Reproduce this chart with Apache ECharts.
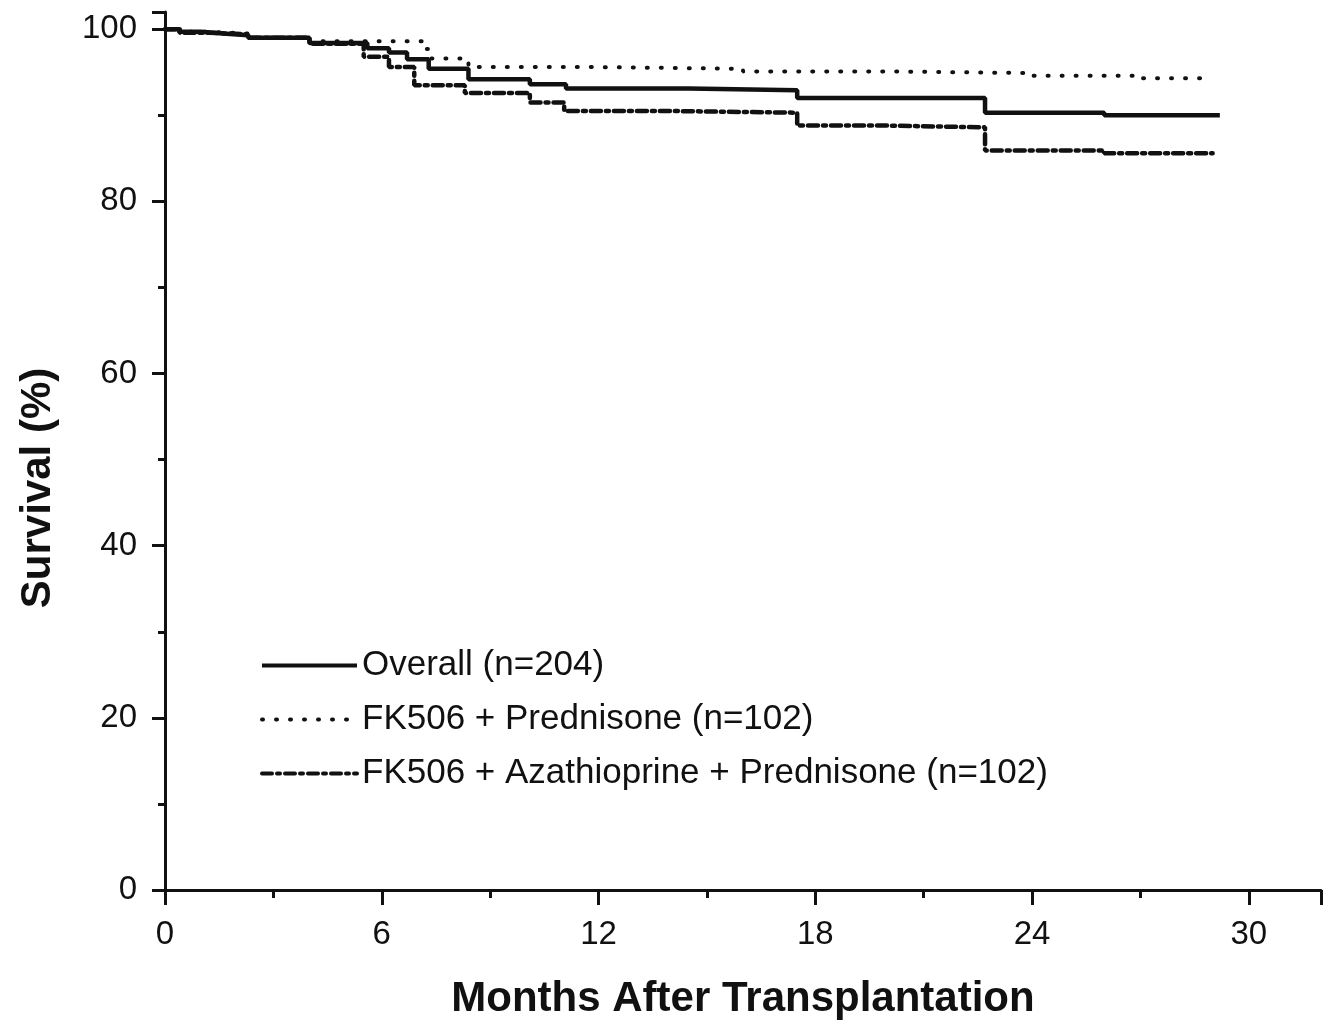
<!DOCTYPE html>
<html>
<head>
<meta charset="utf-8">
<title>Survival after transplantation</title>
<script src="https://cdn.jsdelivr.net/npm/echarts@6/dist/echarts.min.js"></script>
<style>
  html, body { margin: 0; padding: 0; background: #fff; }
  #chart { width: 1331px; height: 1025px; }
</style>
</head>
<body>
<div id="chart"></div>
<script>
// Kaplan-Meier steps (months, survival %)
const overallMonths = [0, 0.4, 1.0, 1.6, 2.3, 4.0, 5.6, 6.2, 6.7, 7.3, 8.4, 10.1, 11.1, 14.5, 17.5, 22.7, 26.0, 29.2]
const overallSurvival = [100, 99.7, 99.5, 99.3, 99.0, 98.4, 97.8, 97.3, 96.5, 95.4, 94.2, 93.6, 93.1, 92.9, 92.0, 90.3, 90.0, 90.0]

const predMonths = [0, 0.5, 1.2, 2.3, 4.0, 7.2, 7.35, 8.4, 12, 16, 20, 24, 27, 28.8]
const predSurvival = [100, 99.7, 99.5, 99.0, 98.6, 97.7, 96.6, 95.6, 95.4, 95.1, 94.9, 94.6, 94.3, 94.3]

const azaMonths = [0, 0.4, 1.2, 2.3, 4.0, 5.5, 6.2, 6.9, 8.3, 10.1, 11.05, 14, 17.5, 20, 22.7, 26, 29.0]
const azaSurvival = [100, 99.6, 99.4, 99.0, 98.3, 96.8, 95.6, 93.5, 92.6, 91.5, 90.5, 90.3, 88.8, 88.6, 85.9, 85.6, 85.6]

const seriesNames = ['Overall (n=204)', 'FK506 + Prednisone (n=102)', 'FK506 + Azathioprine + Prednisone (n=102)']
const xTicks = { min: 0, max: 32, interval: 6 }
const yTicks = { min: 0, max: 102, interval: 20 }

const ink = '#111'
const font = 'Liberation Sans, Arial, Helvetica, sans-serif'

function pairs (xs, ys) {
  return xs.map((x, i) => [x, ys[i]])
}

const chart = echarts.init(document.getElementById('chart'))
const option = {
  backgroundColor: '#fff',
  animation: false,
  grid: {
    left: 165,
    right: 10,
    top: 12,
    bottom: 135
  },
  legend: {
    orient: 'vertical',
    left: 255,
    top: 643,
    itemWidth: 95,
    itemHeight: 12,
    itemGap: 19,
    // hide the middle marker, keep only the line sample
    itemStyle: { color: 'transparent', borderWidth: 0 },
    lineStyle: { width: 4 },
    textStyle: { fontSize: 35, color: ink, fontFamily: font, lineHeight: 34 },
    data: seriesNames
  },
  xAxis: {
    type: 'value',
    min: xTicks.min,
    max: xTicks.max,
    interval: xTicks.interval,
    name: 'Months After Transplantation',
    nameLocation: 'middle',
    nameGap: 88,
    nameTextStyle: { fontSize: 42, fontWeight: 'bold', color: ink, fontFamily: font },
    axisLine: { lineStyle: { color: ink, width: 3 } },
    axisTick: { length: 15, lineStyle: { color: ink, width: 3 } },
    minorTick: { show: true, splitNumber: 2, length: 8, lineStyle: { color: ink, width: 3 } },
    splitLine: { show: false },
    axisLabel: {
      fontSize: 33,
      color: ink,
      fontFamily: font,
      margin: 28,
      formatter: v => (v > 30 ? '' : v)
    }
  },
  yAxis: {
    type: 'value',
    min: yTicks.min,
    max: yTicks.max,
    interval: yTicks.interval,
    name: 'Survival (%)',
    nameLocation: 'middle',
    nameGap: 106,
    nameTextStyle: {
      fontSize: 42,
      fontWeight: 'bold',
      color: ink,
      fontFamily: font,
      padding: [0, 74, 0, 0]
    },
    axisLine: { show: true, lineStyle: { color: ink, width: 3 } },
    axisTick: { length: 13, lineStyle: { color: ink, width: 3 } },
    minorTick: { show: true, splitNumber: 2, length: 7, lineStyle: { color: ink, width: 3 } },
    splitLine: { show: false },
    axisLabel: {
      fontSize: 33,
      color: ink,
      fontFamily: font,
      margin: 28,
      formatter: v => (v > 100 ? '' : v)
    }
  },
  series: [
    {
      name: seriesNames[0],
      type: 'line',
      step: 'end',
      symbol: 'none',
      data: pairs(overallMonths, overallSurvival),
      lineStyle: { color: ink, width: 4.5 },
      itemStyle: { color: ink },
      z: 3
    },
    {
      name: seriesNames[1],
      type: 'line',
      step: 'end',
      symbol: 'none',
      data: pairs(predMonths, predSurvival),
      lineStyle: { color: ink, width: 4, type: [1, 13], cap: 'round' },
      itemStyle: { color: ink }
    },
    {
      name: seriesNames[2],
      type: 'line',
      step: 'end',
      symbol: 'none',
      data: pairs(azaMonths, azaSurvival),
      lineStyle: { color: ink, width: 4.5, type: [10, 5, 3, 5], cap: 'round' },
      itemStyle: { color: ink }
    }
  ]
}
chart.setOption(option)
window.addEventListener('resize', function () {
  chart.resize()
})
</script>
</body>
</html>
